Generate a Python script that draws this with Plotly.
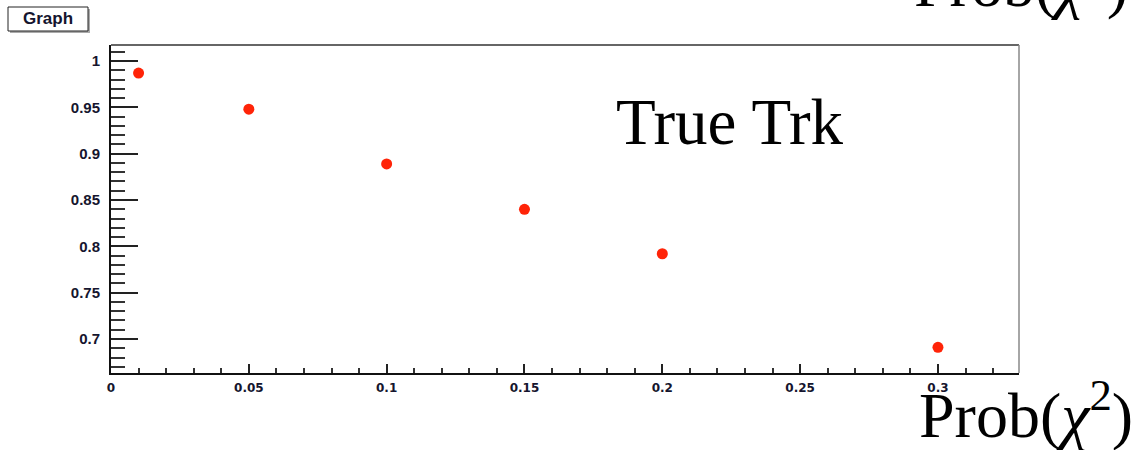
import plotly.graph_objects as go

# Data
prob_chi2 = [0.01, 0.05, 0.10, 0.15, 0.20, 0.30]
efficiency = [0.987, 0.948, 0.889, 0.840, 0.792, 0.691]

W, H = 1142, 450
L, R, T, B = 111, 123, 45, 77
PW, PH = W - L - R, H - T - B


def px(x):
    return (x - L) / PW


def py(y):
    return (H - B - y) / PH


fig = go.Figure()
fig.add_trace(go.Scatter(
    x=prob_chi2, y=efficiency, mode="markers",
    marker=dict(color="#ff2408", size=11, line=dict(width=0)),
    showlegend=False,
))

label_color = "#15152e"

fig.update_layout(
    width=W, height=H,
    margin=dict(l=L, r=R, t=T, b=B),
    paper_bgcolor="white", plot_bgcolor="white",
    xaxis=dict(
        range=[0, 0.3294], showgrid=False, zeroline=False,
        tickmode="linear", tick0=0, dtick=0.05,
        ticks="inside", ticklen=9, tickwidth=1.5, tickcolor="#222",
        minor=dict(dtick=0.01, tick0=0, ticks="inside", ticklen=5, tickwidth=1.5, tickcolor="#333"),
        showline=True, linecolor="#111", linewidth=2, mirror=False,
        tickfont=dict(family="DejaVu Sans", size=12, color=label_color, weight="bold"),
        ticklabelstandoff=3,
    ),
    yaxis=dict(
        range=[0.6633, 1.0173], showgrid=False, zeroline=False,
        tickmode="linear", tick0=0.7, dtick=0.05,
        ticks="inside", ticklen=27, tickwidth=1.5, tickcolor="#222",
        minor=dict(dtick=0.01, tick0=0.7, ticks="inside", ticklen=14, tickwidth=1.5, tickcolor="#333"),
        showline=True, linecolor="#111", linewidth=2, mirror=False,
        tickfont=dict(family="Liberation Sans", size=15, color=label_color, weight="bold"),
        ticklabelstandoff=6,
    ),
    shapes=[
        # top frame line
        dict(type="line", xref="paper", yref="paper", x0=0, x1=1, y0=1, y1=1,
             line=dict(color="#333", width=1.5)),
        # right frame line
        dict(type="line", xref="paper", yref="paper", x0=1, x1=1, y0=0, y1=1,
             line=dict(color="#888", width=1.5)),
        # "Graph" box shadow
        dict(type="rect", xref="paper", yref="paper",
             x0=px(10), x1=px(90), y0=py(33), y1=py(9),
             line=dict(width=0), fillcolor="#aaa"),
        # "Graph" box
        dict(type="rect", xref="paper", yref="paper",
             x0=px(8), x1=px(88), y0=py(31), y1=py(7),
             line=dict(color="#222", width=1), fillcolor="white"),
    ],
    annotations=[
        dict(text="<b>Graph</b>", xref="paper", yref="paper", x=px(48), y=py(19),
             xanchor="center", yanchor="middle", showarrow=False,
             font=dict(family="Liberation Sans", size=17, color="#15152e")),
        dict(text="True Trk", xref="paper", yref="paper", x=px(730), y=py(122),
             xanchor="center", yanchor="middle", showarrow=False,
             font=dict(family="Liberation Serif", size=65, color="black")),
        dict(text="Prob(<i>χ</i><sup>2</sup>)", xref="paper", yref="paper", x=px(1135), y=py(410),
             xanchor="right", yanchor="middle", showarrow=False,
             font=dict(family="Liberation Serif", size=64, color="black")),
        dict(text="Prob(<i>χ</i><sup>2</sup>)", xref="paper", yref="paper", x=px(1130), y=py(-21),
             xanchor="right", yanchor="middle", showarrow=False,
             font=dict(family="Liberation Serif", size=64, color="black")),
    ],
)

fig.write_html("out.html", config={"displayModeBar": False},
               post_script="document.body.style.margin='0';document.body.style.padding='0';")
